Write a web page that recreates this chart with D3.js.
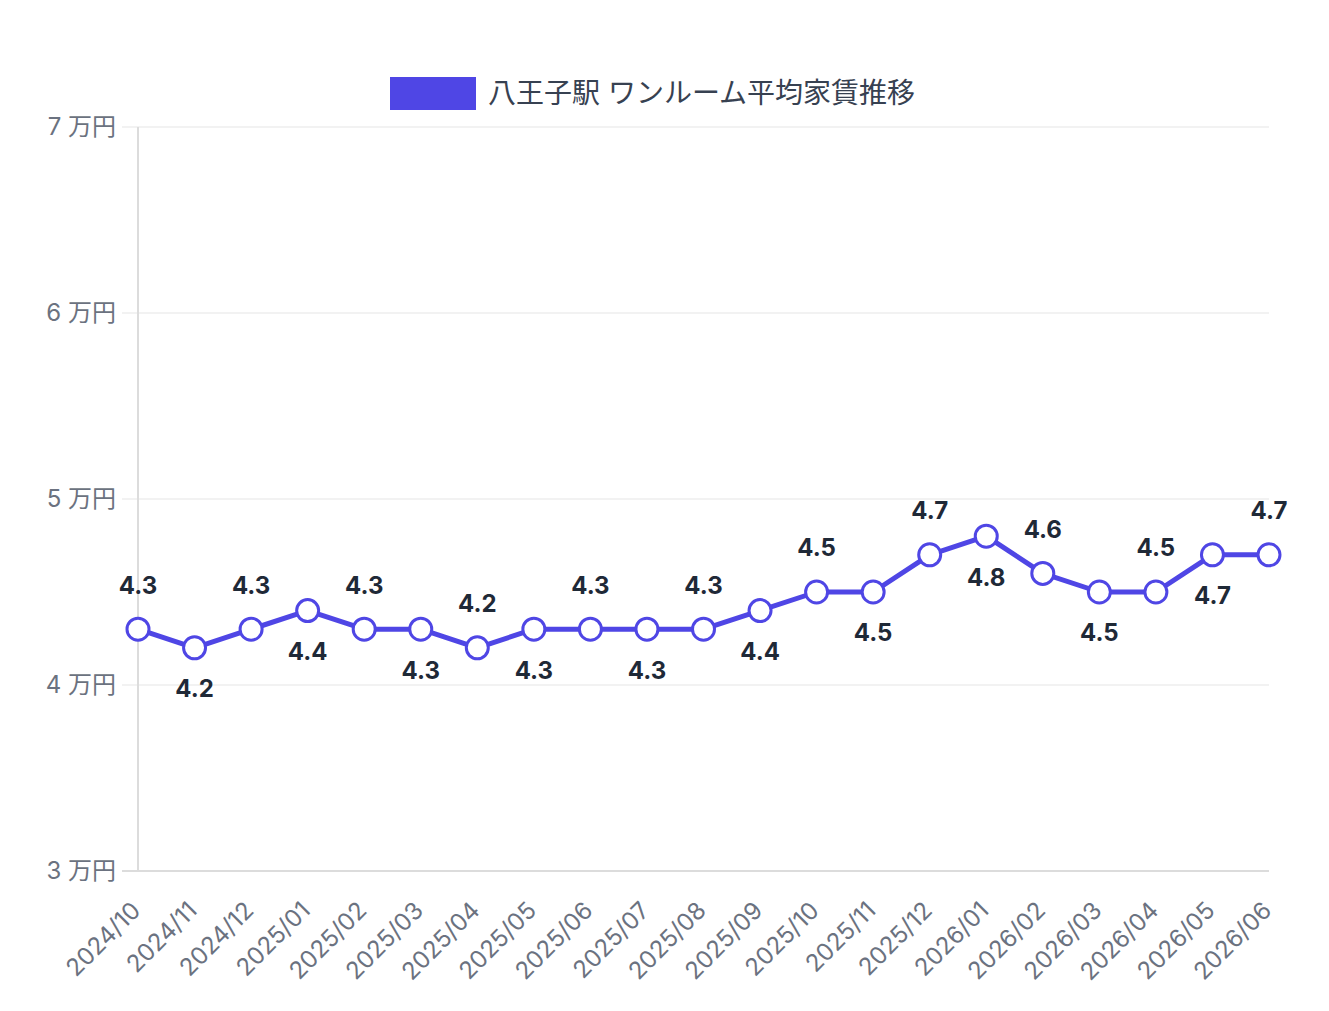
<!DOCTYPE html>
<html>
<head>
<meta charset="utf-8">
<script src="https://cdn.jsdelivr.net/npm/d3@7"></script>
<style>
  html, body { margin: 0; padding: 0; background: #fff; }
  svg { display: block; font-family: Inter, "Noto Sans CJK JP", sans-serif; }
</style>
</head>
<body>
<div id="chart"></div>
<script>
// data
var months = ["2024/10", "2024/11", "2024/12", "2025/01", "2025/02", "2025/03", "2025/04",
  "2025/05", "2025/06", "2025/07", "2025/08", "2025/09", "2025/10", "2025/11", "2025/12",
  "2026/01", "2026/02", "2026/03", "2026/04", "2026/05", "2026/06"];
var rent = [4.3, 4.2, 4.3, 4.4, 4.3, 4.3, 4.2, 4.3, 4.3, 4.3, 4.3, 4.4, 4.5, 4.5, 4.7,
  4.8, 4.6, 4.5, 4.5, 4.7, 4.7];
var yTicks = [3, 4, 5, 6, 7];
var seriesName = "八王子駅 ワンルーム平均家賃推移";

var width = 1329, height = 1011;
var margin = { top: 127, right: 60, bottom: 140, left: 138 };
var color = "#4f46e5";

var svg = d3.select("#chart").append("svg")
  .attr("width", width)
  .attr("height", height);

var x = d3.scalePoint().domain(months).range([margin.left, width - margin.right]);
var y = d3.scaleLinear().domain([3, 7]).range([height - margin.bottom, margin.top]);

// grid
svg.append("g").selectAll("line").data(yTicks).enter().append("line")
  .attr("x1", margin.left - 16).attr("x2", width - margin.right)
  .attr("y1", function (d) { return y(d); }).attr("y2", function (d) { return y(d); })
  .attr("stroke", function (d) { return d === 3 ? "#dcdcdc" : "#eeeeee"; })
  .attr("stroke-width", function (d) { return d === 3 ? 2 : 1.5; });

// y axis line
svg.append("line")
  .attr("x1", margin.left).attr("x2", margin.left)
  .attr("y1", margin.top).attr("y2", y(3))
  .attr("stroke", "#dcdcdc").attr("stroke-width", 2);

// y tick labels
svg.append("g").selectAll("text").data(yTicks).enter().append("text")
  .attr("x", margin.left - 22)
  .attr("y", function (d) { return y(d); })
  .attr("dy", "0.35em")
  .attr("text-anchor", "end")
  .attr("fill", "#6b7280")
  .style("font-size", "24px")
  .text(function (d) { return d + " 万円"; });

// x tick labels
svg.append("g").selectAll("text").data(months).enter().append("text")
  .attr("transform", function (d) { return "translate(" + (x(d) - 2) + "," + (y(3) + 35) + ") rotate(-45)"; })
  .attr("text-anchor", "end")
  .attr("dy", "0.35em")
  .attr("fill", "#6b7280")
  .style("font-size", "24px")
  .text(function (d) { return d; });

// line
var line = d3.line()
  .x(function (d, i) { return x(months[i]); })
  .y(function (d) { return y(d); });

svg.append("path")
  .datum(rent)
  .attr("d", line)
  .attr("fill", "none")
  .attr("stroke", color)
  .attr("stroke-width", 5)
  .attr("stroke-linejoin", "round");

// points
svg.append("g").selectAll("circle").data(rent).enter().append("circle")
  .attr("cx", function (d, i) { return x(months[i]); })
  .attr("cy", function (d) { return y(d); })
  .attr("r", 11)
  .attr("fill", "#fff")
  .attr("stroke", color)
  .attr("stroke-width", 3);

// value labels, alternate above / below
svg.append("g").selectAll("text").data(rent).enter().append("text")
  .attr("x", function (d, i) { return x(months[i]); })
  .attr("y", function (d, i) { return y(d) + (i % 2 === 0 ? -44 : 41); })
  .attr("dy", "0.35em")
  .attr("text-anchor", "middle")
  .attr("fill", "#1f2937")
  .style("font-size", "24px")
  .style("font-weight", "700")
  .text(function (d) { return d.toFixed(1); });

// legend
var legend = svg.append("g");
legend.append("rect")
  .attr("x", 390).attr("y", 77)
  .attr("width", 86).attr("height", 33)
  .attr("fill", color);
legend.append("text")
  .attr("x", 488).attr("y", 93)
  .attr("dy", "0.35em")
  .attr("fill", "#374151")
  .style("font-size", "28px")
  .text(seriesName);
</script>
</body>
</html>
